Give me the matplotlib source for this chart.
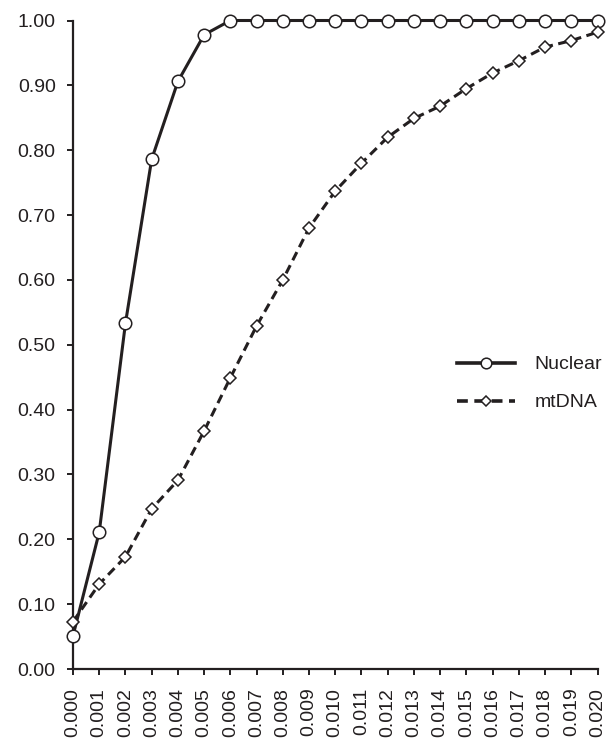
import matplotlib.pyplot as plt
from matplotlib.ticker import FormatStrFormatter

plt.rcParams['font.family'] = ['Liberation Sans', 'DejaVu Sans']

INK = '#231f20'

# x positions (0.000 .. 0.020)
x_labels = ['0.000', '0.001', '0.002', '0.003', '0.004', '0.005', '0.006',
            '0.007', '0.008', '0.009', '0.010', '0.011', '0.012', '0.013',
            '0.014', '0.015', '0.016', '0.017', '0.018', '0.019', '0.020']
x_vals = [float(s) for s in x_labels]

nuclear = [0.051, 0.211, 0.533, 0.786, 0.906, 0.978, 1.0, 1.0, 1.0, 1.0, 1.0,
           1.0, 1.0, 1.0, 1.0, 1.0, 1.0, 1.0, 1.0, 1.0, 1.0]
mtdna = [0.073, 0.131, 0.173, 0.247, 0.291, 0.367, 0.449, 0.529, 0.600, 0.680,
         0.737, 0.780, 0.820, 0.849, 0.868, 0.895, 0.919, 0.938, 0.959, 0.969,
         0.982]

fig = plt.figure(figsize=(6.16, 7.42), dpi=100)
ax = fig.add_axes([73 / 616, 73 / 742, 524.5 / 616, 648.5 / 742])

ax.plot(x_vals, nuclear, color=INK, lw=2.2, marker='o', markersize=9,
        markerfacecolor='white', markeredgecolor=INK, markeredgewidth=1.1,
        label='Nuclear', zorder=3)
ax.plot(x_vals, mtdna, color=INK, lw=2.2, linestyle=(0, (3.0, 1.8)), marker='D',
        markersize=6.5, markerfacecolor='white', markeredgecolor=INK,
        markeredgewidth=1.1, label='mtDNA', zorder=3)

ax.set_xlim(0, 0.020)
ax.set_ylim(0, 1.0)
ax.set_xticks(x_vals)
ax.set_xticklabels(x_labels, rotation=90)
ax.set_yticks([i / 10 for i in range(11)])
ax.yaxis.set_major_formatter(FormatStrFormatter('%.2f'))

for side in ['top', 'right']:
    ax.spines[side].set_visible(False)
for side in ['left', 'bottom']:
    ax.spines[side].set_color(INK)
    ax.spines[side].set_linewidth(1.6)
ax.tick_params(direction='out', length=4.5, width=1.4, color=INK,
               labelsize=14, labelcolor=INK)
ax.tick_params(axis='y', pad=8)
ax.tick_params(axis='x', pad=9)

leg = ax.legend(loc='center left', bbox_to_anchor=(0.732, 0.44), frameon=False,
                fontsize=14, handlelength=3.0, handletextpad=1.0,
                labelspacing=1.05, borderpad=0, borderaxespad=0, markerscale=0.85)
for t in leg.get_texts():
    t.set_color(INK)
for h in leg.get_lines():
    h.set_linewidth(2.6)

for ln in ax.lines:
    ln.set_clip_on(False)

plt.savefig('out.png', dpi=100)
plt.close()
